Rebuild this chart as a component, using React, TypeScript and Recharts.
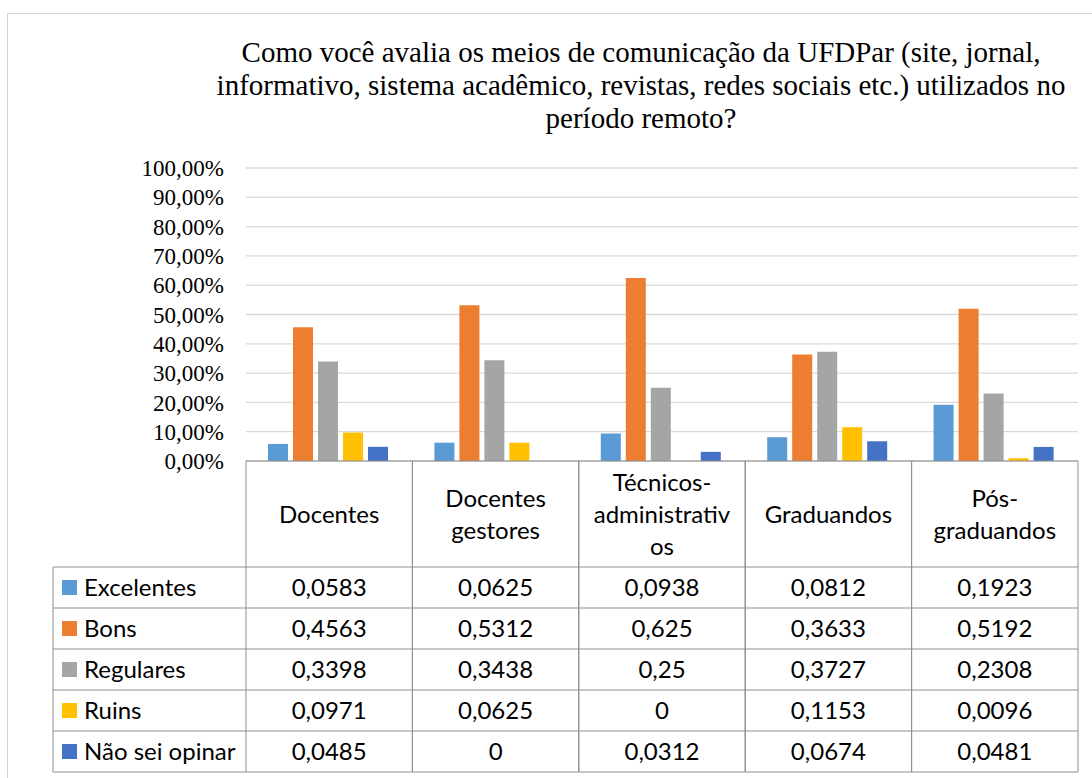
import React from "react";
import { BarChart, Bar, XAxis, YAxis, CartesianGrid } from "recharts";

const titleLines = [
  "Como você avalia os meios de comunicação da UFDPar (site, jornal,",
  "informativo, sistema acadêmico, revistas, redes sociais etc.) utilizados no",
  "período remoto?",
];

const categories = [
  "Docentes",
  "Docentes gestores",
  "Técnicos-administrativos",
  "Graduandos",
  "Pós-graduandos",
];
// header cells wrap like the original data table
const headerLines = [
  ["Docentes"],
  ["Docentes", "gestores"],
  ["Técnicos-", "administrativ", "os"],
  ["Graduandos"],
  ["Pós-", "graduandos"],
];

const excelentes = [0.0583, 0.0625, 0.0938, 0.0812, 0.1923];
const bons = [0.4563, 0.5312, 0.625, 0.3633, 0.5192];
const regulares = [0.3398, 0.3438, 0.25, 0.3727, 0.2308];
const ruins = [0.0971, 0.0625, 0, 0.1153, 0.0096];
const naoSei = [0.0485, 0, 0.0312, 0.0674, 0.0481];

const yTicks = [0, 0.1, 0.2, 0.3, 0.4, 0.5, 0.6, 0.7, 0.8, 0.9, 1];

const series = [
  { key: "excelentes", name: "Excelentes", color: "#5B9BD5", values: excelentes },
  { key: "bons", name: "Bons", color: "#ED7D31", values: bons },
  { key: "regulares", name: "Regulares", color: "#A5A5A5", values: regulares },
  { key: "ruins", name: "Ruins", color: "#FFC000", values: ruins },
  { key: "naoSei", name: "Não sei opinar", color: "#4472C4", values: naoSei },
];

const data = categories.map((category, i) => {
  const row: Record<string, string | number> = { category };
  series.forEach((s) => {
    row[s.key] = s.values[i];
  });
  return row;
});

const W = 1092;
const H = 778;
const PLOT_LEFT = 246;
const PLOT_RIGHT = 1078;
const COL_W = (PLOT_RIGHT - PLOT_LEFT) / categories.length;
const LABEL_LEFT = 53;
const HEADER_H = 106;
const ROW_H = 41;
const TABLE_H = HEADER_H + ROW_H * series.length;
const BORDER = "#8f8f8f";
const TABLE_FONT = "Lato, 'Open Sans', sans-serif";
const SERIF = "'Liberation Serif', 'Times New Roman', serif";

const fmtCell = (v: number) => String(v).replace(".", ",");
const fmtPct = (v: number) => (v * 100).toFixed(2).replace(".", ",") + "%";

function ColumnTick(props: any) {
  const { x, y, index } = props;
  const left = x - COL_W / 2;
  const right = x + COL_W / 2;
  const lines = headerLines[index] || [];
  const headerMid = y + HEADER_H / 2;
  return (
    <g>
      <line x1={left} x2={left} y1={y} y2={y + TABLE_H} stroke={BORDER} />
      <line x1={right} x2={right} y1={y} y2={y + TABLE_H} stroke={BORDER} />
      {series.map((s, r) => (
        <line
          key={`h-${r}`}
          x1={index === 0 ? LABEL_LEFT : left}
          x2={right}
          y1={y + HEADER_H + ROW_H * r}
          y2={y + HEADER_H + ROW_H * r}
          stroke={BORDER}
        />
      ))}
      <line
        x1={index === 0 ? LABEL_LEFT : left}
        x2={right}
        y1={y + TABLE_H}
        y2={y + TABLE_H}
        stroke={BORDER}
      />
      {index === 0 && (
        <line x1={LABEL_LEFT} x2={LABEL_LEFT} y1={y + HEADER_H} y2={y + TABLE_H} stroke={BORDER} />
      )}
      {lines.map((t: string, k: number) => (
        <text
          key={`l-${k}`}
          x={x}
          y={headerMid + (k - (lines.length - 1) / 2) * 32}
          dy="0.36em"
          textAnchor="middle"
          fill="#000"
          fontSize={24}
          fontFamily={TABLE_FONT}
        >
          {t}
        </text>
      ))}
      {series.map((s, r) => (
        <text
          key={`v-${r}`}
          x={x}
          y={y + HEADER_H + ROW_H * (r + 0.5)}
          dy="0.36em"
          textAnchor="middle"
          fill="#000"
          fontSize={24}
          fontFamily={TABLE_FONT}
        >
          {fmtCell(s.values[index])}
        </text>
      ))}
      {index === 0 &&
        series.map((s, r) => {
          const cy = y + HEADER_H + ROW_H * (r + 0.5);
          return (
            <g key={`k-${r}`}>
              <rect x={62} y={cy - 7.5} width={15} height={15} fill={s.color} />
              <text
                x={84}
                y={cy}
                dy="0.36em"
                fill="#000"
                fontSize={24}
                fontFamily={TABLE_FONT}
              >
                {s.name}
              </text>
            </g>
          );
        })}
    </g>
  );
}

export default function App() {
  return (
    <div
      style={{
        position: "fixed",
        left: 0,
        top: 0,
        width: W,
        height: H,
        overflow: "hidden",
        background: "#fff",
      }}
    >
      <div
        style={{
          position: "absolute",
          left: 7,
          top: 13,
          width: 1100,
          height: 800,
          border: "1px solid #d4d4d4",
        }}
      />
      <div
        style={{
          position: "absolute",
          left: 141,
          top: 36,
          width: 1000,
          textAlign: "center",
          fontFamily: SERIF,
          fontSize: 29,
          lineHeight: "33px",
          color: "#000",
        }}
      >
        {titleLines.map((t) => (
          <div key={t}>{t}</div>
        ))}
      </div>
      <div style={{ position: "absolute", left: 0, top: 0 }}>
        <BarChart
          width={W}
          height={H}
          data={data}
          margin={{ top: 168, right: W - PLOT_RIGHT, bottom: H - 461 - TABLE_H - 1, left: 0 }}
          barCategoryGap={22}
          barGap={5}
        >
          <CartesianGrid vertical={false} stroke="#d9d9d9" strokeWidth={1.3} />
          <YAxis
            width={PLOT_LEFT}
            domain={[0, 1]}
            ticks={yTicks}
            tickFormatter={fmtPct}
            axisLine={false}
            tickLine={false}
            tickSize={0}
            tickMargin={22}
            interval={0}
            tick={{ fill: "#000", fontSize: 23, fontFamily: SERIF }}
          />
          <XAxis
            dataKey="category"
            height={TABLE_H + 1}
            axisLine={{ stroke: BORDER }}
            tickLine={false}
            tickSize={0}
            tickMargin={0}
            interval={0}
            tick={(p: any) => <ColumnTick key={`c-${p.index}`} {...p} />}
          />
          {series.map((s) => (
            <Bar
              key={s.key}
              dataKey={s.key}
              name={s.name}
              fill={s.color}
              isAnimationActive={false}
            />
          ))}
        </BarChart>
      </div>
    </div>
  );
}
